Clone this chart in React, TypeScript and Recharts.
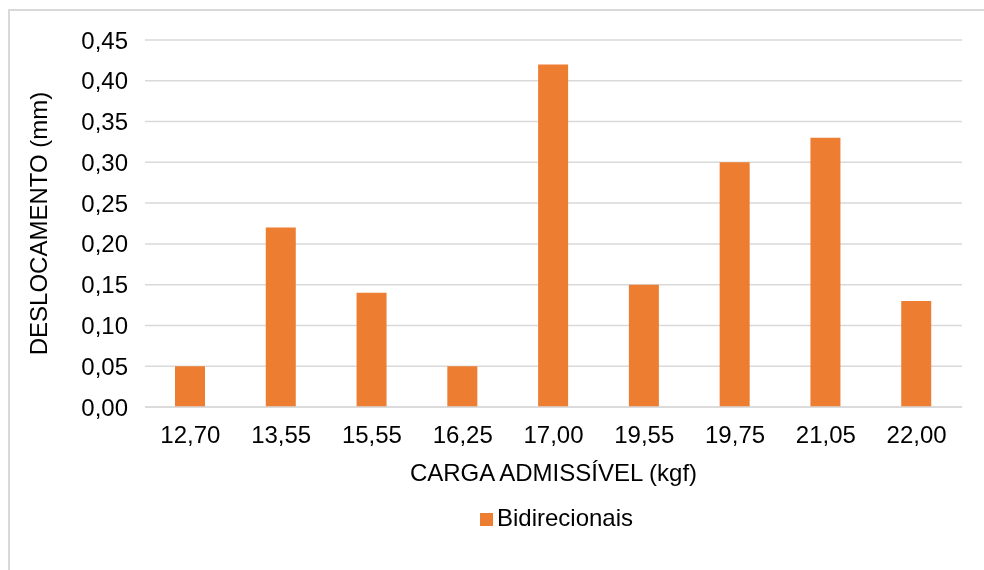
import React from "react";
import { BarChart, Bar, XAxis, YAxis, CartesianGrid, Legend } from "recharts";

// Applied loads (kgf) and measured displacement (mm)
const categories = ["12,70", "13,55", "15,55", "16,25", "17,00", "19,55", "19,75", "21,05", "22,00"];
const bidirecionais = [0.05, 0.22, 0.14, 0.05, 0.42, 0.15, 0.3, 0.33, 0.13];
const yTicks = [0, 0.05, 0.1, 0.15, 0.2, 0.25, 0.3, 0.35, 0.4, 0.45];

const data = categories.map((c, i) => ({ carga: c, Bidirecionais: bidirecionais[i] }));

const FONT = "'Liberation Sans', Arial, sans-serif";
const fmt = (v: number) => v.toFixed(2).replace(".", ",");

export default function App() {
  return (
    <div style={{ position: "relative", width: 968, height: 554, fontFamily: FONT }}>
      {/* chart frame: top and left edges only */}
      <div
        style={{
          position: "fixed",
          left: 8,
          top: 9,
          right: 0,
          bottom: 0,
          borderTop: "2px solid #d9d9d9",
          borderLeft: "2px solid #d9d9d9",
          boxSizing: "border-box",
          pointerEvents: "none",
        }}
      />
      <BarChart
        width={968}
        height={554}
        data={data}
        margin={{ top: 32, right: 14, left: 0, bottom: 30 }}
        barSize={30}
      >
        <CartesianGrid horizontal vertical={false} stroke="#d9d9d9" strokeWidth={1.5} />
        <XAxis
          dataKey="carga"
          height={97}
          axisLine={{ stroke: "#d9d9d9", strokeWidth: 1.5 }}
          tickLine={false}
          tickSize={6}
          tickMargin={13}
          tick={{ fill: "#000", fontSize: 24, fontFamily: FONT }}
          label={{
            value: "CARGA ADMISSÍVEL (kgf)",
            position: "insideBottom",
            offset: 23,
            fill: "#000",
            fontSize: 24,
            fontFamily: FONT,
          }}
        />
        <YAxis
          width={137}
          domain={[0, 0.45]}
          ticks={yTicks}
          tickFormatter={fmt}
          axisLine={false}
          tickLine={false}
          tickSize={6}
          tickMargin={11}
          tick={{ fill: "#000", fontSize: 24, fontFamily: FONT }}
          label={{
            value: "DESLOCAMENTO (mm)",
            angle: -90,
            position: "insideLeft",
            offset: 30,
            fill: "#000",
            fontSize: 24,
            fontFamily: FONT,
            style: { textAnchor: "middle" },
          }}
        />
        <Legend
          verticalAlign="bottom"
          iconType="square"
          iconSize={13}
          wrapperStyle={{ left: 145, width: 817, fontSize: 24, fontFamily: FONT, color: "#000" }}
          formatter={(value: string) => <span style={{ color: "#000" }}>{value}</span>}
        />
        <Bar dataKey="Bidirecionais" fill="#ED7D31" isAnimationActive={false} />
      </BarChart>
    </div>
  );
}
